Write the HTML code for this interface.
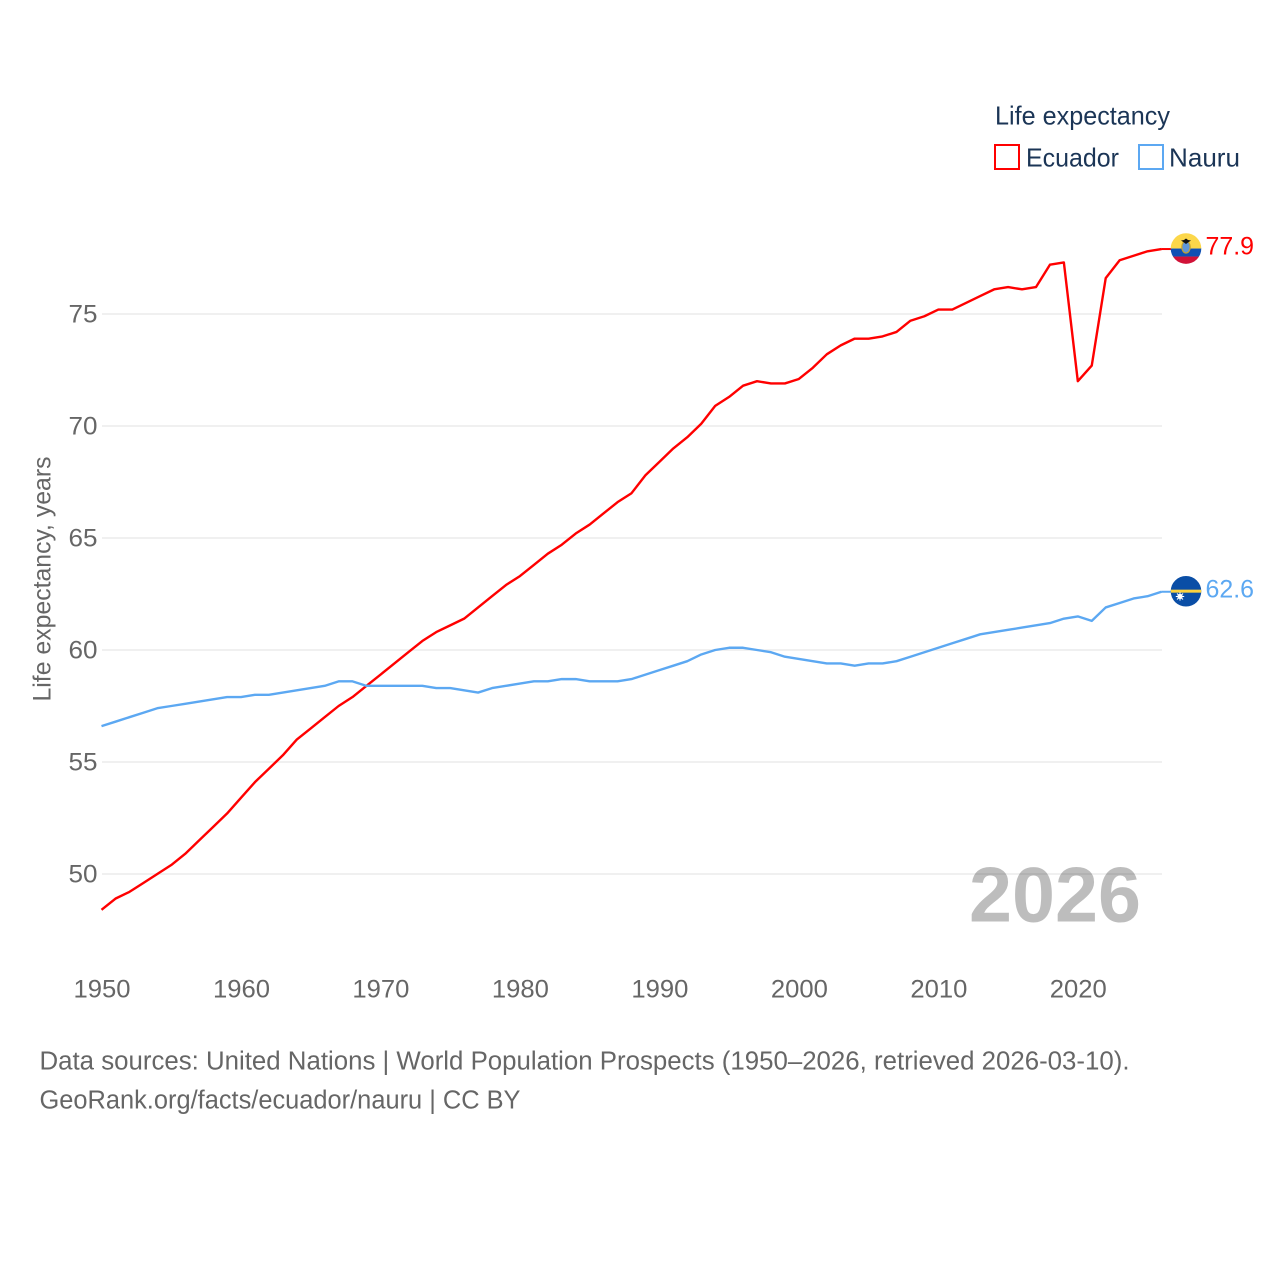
<!DOCTYPE html>
<html lang="en">
<head>
<meta charset="utf-8">
<title>Life expectancy: Ecuador and Nauru</title>
<style>
html,body{margin:0;padding:0;background:#fff;}
svg{display:block;font-family:"Liberation Sans",sans-serif;}
</style>
</head>
<body>
<svg id="chart" xmlns="http://www.w3.org/2000/svg" width="1280" height="1280" viewBox="0 0 1280 1280">
  <defs>
    <clipPath id="flag-clip"><circle cx="0" cy="0" r="15.3"></circle></clipPath>
  </defs>
  <rect x="0" y="0" width="1280" height="1280" fill="#ffffff"></rect>

  <g id="grid"></g>
  <g id="yticks"></g>
  <g id="xticks"></g>

  <text transform="translate(50.5,579) rotate(-90)" text-anchor="middle" font-size="25" fill="#666666" textLength="245" lengthAdjust="spacingAndGlyphs">Life expectancy, years</text>

  <text x="969" y="921.5" font-size="78" font-weight="700" fill="#000000" fill-opacity="0.26" textLength="172" lengthAdjust="spacingAndGlyphs">2026</text>

  <g id="series"></g>
  <g id="flags"></g>

  <g>
    <text x="995" y="124.5" font-size="26" fill="#1b3556" textLength="175" lengthAdjust="spacingAndGlyphs">Life expectancy</text>
    <rect x="995" y="145" width="24" height="24" fill="#ffffff" stroke="#ff0000" stroke-width="2"></rect>
    <text x="1026" y="166.5" font-size="26" fill="#1b3556" textLength="93" lengthAdjust="spacingAndGlyphs">Ecuador</text>
    <rect x="1139" y="145" width="24" height="24" fill="#ffffff" stroke="#5ca8f2" stroke-width="2"></rect>
    <text x="1169" y="166.5" font-size="26" fill="#1b3556" textLength="71" lengthAdjust="spacingAndGlyphs">Nauru</text>
  </g>

  <text x="39.5" y="1069.5" font-size="25.5" fill="#666666" textLength="1090" lengthAdjust="spacingAndGlyphs">Data sources: United Nations | World Population Prospects (1950–2026, retrieved 2026-03-10).</text>
  <text x="39.5" y="1108.5" font-size="25.5" fill="#666666" textLength="481" lengthAdjust="spacingAndGlyphs">GeoRank.org/facts/ecuador/nauru | CC BY</text>
</svg>

<script>
const years = [1950,1951,1952,1953,1954,1955,1956,1957,1958,1959,1960,1961,1962,1963,1964,1965,1966,1967,1968,1969,1970,1971,1972,1973,1974,1975,1976,1977,1978,1979,1980,1981,1982,1983,1984,1985,1986,1987,1988,1989,1990,1991,1992,1993,1994,1995,1996,1997,1998,1999,2000,2001,2002,2003,2004,2005,2006,2007,2008,2009,2010,2011,2012,2013,2014,2015,2016,2017,2018,2019,2020,2021,2022,2023,2024,2025,2026];
const ecuadorValues = [48.4,48.9,49.2,49.6,50.0,50.4,50.9,51.5,52.1,52.7,53.4,54.1,54.7,55.3,56.0,56.5,57.0,57.5,57.9,58.4,58.9,59.4,59.9,60.4,60.8,61.1,61.4,61.9,62.4,62.9,63.3,63.8,64.3,64.7,65.2,65.6,66.1,66.6,67.0,67.8,68.4,69.0,69.5,70.1,70.9,71.3,71.8,72.0,71.9,71.9,72.1,72.6,73.2,73.6,73.9,73.9,74.0,74.2,74.7,74.9,75.2,75.2,75.5,75.8,76.1,76.2,76.1,76.2,77.2,77.3,72.0,72.7,76.6,77.4,77.6,77.8,77.9];
const nauruValues = [56.6,56.8,57.0,57.2,57.4,57.5,57.6,57.7,57.8,57.9,57.9,58.0,58.0,58.1,58.2,58.3,58.4,58.6,58.6,58.4,58.4,58.4,58.4,58.4,58.3,58.3,58.2,58.1,58.3,58.4,58.5,58.6,58.6,58.7,58.7,58.6,58.6,58.6,58.7,58.9,59.1,59.3,59.5,59.8,60.0,60.1,60.1,60.0,59.9,59.7,59.6,59.5,59.4,59.4,59.3,59.4,59.4,59.5,59.7,59.9,60.1,60.3,60.5,60.7,60.8,60.9,61.0,61.1,61.2,61.4,61.5,61.3,61.9,62.1,62.3,62.4,62.6];
const yTickValues = [50,55,60,65,70,75];
const xTickValues = [1950,1960,1970,1980,1990,2000,2010,2020];

const NS = 'http://www.w3.org/2000/svg';
function xScale(year){ return 101.5 + (year - 1950) * (1060 / 76); }
function yScale(value){ return 874 - (value - 50) * 22.4; }
function make(parent, tag, attrs){
  const el = document.createElementNS(NS, tag);
  for (const k in attrs) el.setAttribute(k, attrs[k]);
  parent.appendChild(el);
  return el;
}

const grid = document.getElementById('grid');
const yticks = document.getElementById('yticks');
const xticks = document.getElementById('xticks');
const series = document.getElementById('series');
const flags = document.getElementById('flags');

yTickValues.forEach(function(v){
  const line = make(grid, 'line', {x1:102, x2:1162, y1:yScale(v), y2:yScale(v), stroke:'#ececec', 'stroke-width':1.6});
  
  
  const label = make(yticks, 'text', {x:97.5, y:yScale(v) + 8.5, 'text-anchor':'end', 'font-size':25, fill:'#666666', textLength:29, lengthAdjust:'spacingAndGlyphs'});
  label.textContent = String(v);
  
  
});

xTickValues.forEach(function(y){
  const label = make(xticks, 'text', {x:xScale(y) + 0.5, y:997.5, 'text-anchor':'middle', 'font-size':25, fill:'#666666', textLength:57, lengthAdjust:'spacingAndGlyphs'});
  label.textContent = String(y);
  
  
});

function linePath(values){
  return values.map(function(v, i){
    return (i ? 'L' : 'M') + xScale(years[i]).toFixed(2) + ' ' + yScale(v).toFixed(2);
  }).join(' ');
}

function drawEndLabel(values, color){
  const last = values[values.length - 1];
  const endY = yScale(last);
  const stub = make(series, 'line', {x1:xScale(years[years.length - 1]), x2:1171, y1:endY, y2:endY, stroke:color, 'stroke-width':2});
  
  
  const text = make(flags, 'text', {x:1205.5, y:endY + 5.5, 'font-size':25, fill:color, textLength:48.5, lengthAdjust:'spacingAndGlyphs'});
  text.textContent = last.toFixed(1);
  
  
  return endY;
}

const ecuadorLine = make(series, 'path', {d:linePath(ecuadorValues), fill:'none', stroke:'#ff0000', 'stroke-width':2.4, 'stroke-linejoin':'round'});



const nauruLine = make(series, 'path', {d:linePath(nauruValues), fill:'none', stroke:'#5ca8f2', 'stroke-width':2.4, 'stroke-linejoin':'round'});



const ecuadorEndY = drawEndLabel(ecuadorValues, '#ff0000');
const nauruEndY = drawEndLabel(nauruValues, '#5ca8f2');

/* Ecuador flag */
const ecFlag = make(flags, 'g', {transform:'translate(1186,' + (ecuadorEndY - 0.5) + ')', 'clip-path':'url(#flag-clip)'});


make(ecFlag, 'rect', {x:-16, y:-16, width:32, height:16, fill:'#fcd74a'});
make(ecFlag, 'rect', {x:-16, y:0, width:32, height:8, fill:'#0f50b4'});
make(ecFlag, 'rect', {x:-16, y:8, width:32, height:8, fill:'#d11238'});
make(ecFlag, 'ellipse', {cx:0, cy:-1.5, rx:4.2, ry:6, fill:'#5f97d8', stroke:'#c9a32a', 'stroke-width':1.2});
make(ecFlag, 'polygon', {points:'-5,-8 -2,-8.5 0,-10 2,-8.5 5,-8 2,-6 0,-4.5 -2,-6', fill:'#111111'});

/* Nauru flag */
const nrFlag = make(flags, 'g', {transform:'translate(1186,' + (nauruEndY - 0.5) + ')', 'clip-path':'url(#flag-clip)'});


make(nrFlag, 'rect', {x:-16, y:-16, width:32, height:32, fill:'#0a4ea6'});
make(nrFlag, 'rect', {x:-16, y:-1.6, width:32, height:3, fill:'#fcd23f'});
make(nrFlag, 'circle', {cx:-6, cy:5.2, r:2.6, fill:'#ffffff'});
make(nrFlag, 'path', {d:'M-6 1 V9.4 M-10.2 5.2 H-1.8 M-9 2.2 L-3 8.2 M-3 2.2 L-9 8.2', stroke:'#ffffff', 'stroke-width':1, fill:'none'});
</script>
</body>
</html>
